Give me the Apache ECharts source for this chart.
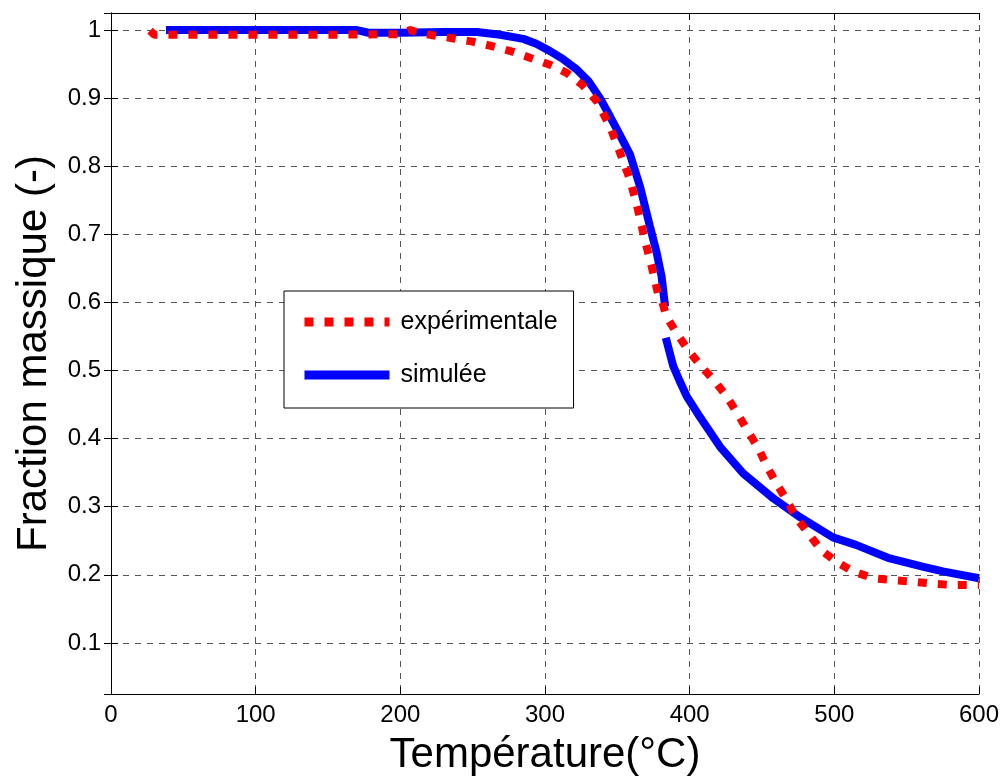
<!DOCTYPE html>
<html>
<head>
<meta charset="utf-8">
<script src="https://cdn.jsdelivr.net/npm/echarts@6/dist/echarts.min.js"></script>
<style>html,body{margin:0;padding:0;background:#fff;}#c{width:1005px;height:782px;}</style>
</head>
<body>
<div id="c"></div>
<script>
// ---- data ----
const xTicks = [0, 100, 200, 300, 400, 500, 600];
const yTicks = [0.1, 0.2, 0.3, 0.4, 0.5, 0.6, 0.7, 0.8, 0.9, 1];

const expT = [27, 30, 40, 100, 150, 200, 207, 214, 236, 250, 264, 278, 290, 303.5, 315, 326, 336, 345, 352, 358.8, 364.3, 369, 373.7, 378, 380.6, 384, 391, 399, 408, 417.5, 425.6, 433.6, 440.5, 447.5, 453, 460, 467, 474, 482, 491, 501.6, 513, 527, 541, 554, 568, 582, 600];
const expY = [0.999, 0.993, 0.993, 0.993, 0.993, 0.994, 1.0, 0.995, 0.988, 0.983, 0.976, 0.968, 0.959, 0.949, 0.937, 0.919, 0.895, 0.858, 0.819, 0.780, 0.736, 0.692, 0.653, 0.614, 0.604, 0.579, 0.555, 0.530, 0.506, 0.484, 0.462, 0.435, 0.410, 0.386, 0.361, 0.334, 0.310, 0.283, 0.261, 0.236, 0.219, 0.205, 0.195, 0.192, 0.190, 0.187, 0.185, 0.185];

// simulated curve: two pieces (there is a break near 383 °C)
const simT1 = [38, 100, 150, 170, 178, 200, 230, 253, 269, 285, 294, 303.5, 312, 322, 330, 338, 345, 352, 358.8, 365.7, 372.6, 377.2, 380.6, 383];
const simY1 = [1.0, 1.0, 1.0, 1.0, 0.996, 0.996, 0.997, 0.997, 0.993, 0.987, 0.980, 0.969, 0.958, 0.942, 0.925, 0.900, 0.873, 0.845, 0.817, 0.770, 0.711, 0.673, 0.638, 0.594];
const simT2 = [383.5, 388.7, 393, 398, 407, 421, 437, 458, 476, 499, 515, 537, 561, 575, 600];
const simY2 = [0.548, 0.506, 0.485, 0.462, 0.432, 0.388, 0.349, 0.312, 0.285, 0.255, 0.244, 0.225, 0.212, 0.205, 0.195];

const names = ['expérimentale', 'simulée'];

// ---- build ----
const zip = (a, b) => a.map((v, i) => [v, b[i]]);
const simData = zip(simT1, simY1).concat([[383.2, '-']]).concat(zip(simT2, simY2));
const expData = zip(expT, expY);

const FONT = "'Liberation Sans', Arial, sans-serif";
const near = (arr, v) => arr.some(t => Math.abs(t - v) < 1e-6);

const chart = echarts.init(document.getElementById('c'), null, {renderer: 'canvas'});
const axisLineStyle = {show: true, lineStyle: {color: '#000', width: 1}};
const tickStyle = {show: true, inside: true, length: 7, lineStyle: {color: '#000', width: 1}};
const gridLine = {show: true, lineStyle: {color: '#555', width: 1, type: [6, 6]}};

chart.setOption({
  animation: false,
  backgroundColor: '#fff',
  grid: {left: 111, right: 26, top: 13, bottom: 88, containLabel: false},
  legend: {
    data: names,
    orient: 'vertical',
    left: 284, top: 291,
    padding: [16, 16, 18, 16],
    itemGap: 23,
    itemWidth: 85, itemHeight: 14,
    backgroundColor: '#fff',
    borderColor: '#000', borderWidth: 1, borderRadius: 0,
    lineStyle: {width: 9},
    itemStyle: {opacity: 0, borderWidth: 0},
    textStyle: {fontFamily: FONT, fontSize: 25, color: '#000', lineHeight: 30, padding: [0, 0, 0, 6]},
    selectedMode: false,
    z: 10
  },
  xAxis: [{
    type: 'value', min: 0, max: 600, interval: 100, position: 'bottom',
    name: 'Température(°C)', nameLocation: 'middle', nameGap: 40,
    nameTextStyle: {fontFamily: FONT, fontSize: 42, color: '#000'},
    axisLine: axisLineStyle, axisTick: tickStyle,
    axisLabel: {fontFamily: FONT, fontSize: 24, color: '#000', margin: 9,
      formatter: v => near(xTicks, v) ? String(v) : ''},
    splitLine: gridLine
  }, {
    type: 'value', min: 0, max: 600, interval: 100, position: 'top',
    axisLine: axisLineStyle, axisTick: tickStyle,
    axisLabel: {show: false}, splitLine: {show: false}
  }],
  yAxis: [{
    type: 'value', min: 0.025, max: 1.025, splitNumber: 10, position: 'left',
    name: 'Fraction massique (-)', nameLocation: 'middle', nameGap: 56,
    nameTextStyle: {fontFamily: FONT, fontSize: 42, color: '#000'},
    axisLine: axisLineStyle, axisTick: tickStyle,
    axisLabel: {fontFamily: FONT, fontSize: 24, color: '#000', margin: 10,
      showMinLabel: false, showMaxLabel: false,
      formatter: v => near(yTicks, v) ? String(Math.round(v * 10) / 10) : ''},
    splitLine: gridLine
  }, {
    type: 'value', min: 0.025, max: 1.025, splitNumber: 10, position: 'right',
    axisLine: axisLineStyle, axisTick: tickStyle,
    axisLabel: {show: false}, splitLine: {show: false}
  }],
  series: [{
    name: names[1], type: 'line', data: simData,
    xAxisIndex: 0, yAxisIndex: 0,
    showSymbol: false, symbol: 'none', connectNulls: false,
    lineStyle: {color: '#0000ff', width: 8},
    itemStyle: {color: '#0000ff'}, z: 3
  }, {
    name: names[0], type: 'line', data: expData,
    xAxisIndex: 0, yAxisIndex: 0,
    showSymbol: false, symbol: 'none',
    lineStyle: {color: '#ff0000', width: 8, type: [9, 11], cap: 'butt'},
    itemStyle: {color: '#ff0000'}, z: 4
  }]
});
</script>
</body>
</html>
